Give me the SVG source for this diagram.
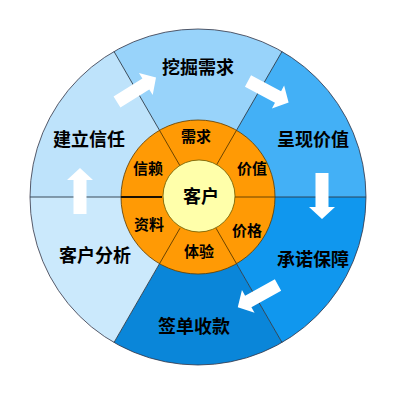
<svg xmlns="http://www.w3.org/2000/svg" width="400" height="400" viewBox="0 0 400 400">
<style>
.t{font-family:"Noto Sans CJK SC","Noto Sans",sans-serif;font-weight:bold;fill:#000;text-anchor:middle;dominant-baseline:central}
.o{font-size:18px}
.i{font-size:15px}
.div{stroke:#2a3a48;stroke-width:0.9;fill:none}
.idiv{stroke:#5a3a00;stroke-width:0.9;fill:none}
.arr{fill:#ffffff}
</style>
<defs>
<path id="ar" d="M0,-6.5 L34,-6.5 L34,-13 L46,0 L34,13 L34,6.5 L0,6.5 Z"/>
</defs>
<rect width="400" height="400" fill="#ffffff"/>
<g id="n-wajue">
<path d="M198,197 L282,51.51 A168,168 0 0 0 114,51.51 Z" fill="#98D3FA"/>
<text class="t o" x="198" y="66">挖掘需求</text>
</g>
<g id="n-chengxian">
<path d="M198,197 L366,197 A168,168 0 0 0 282,51.51 Z" fill="#43B0F6"/>
<text class="t o" x="313" y="138">呈现价值</text>
</g>
<g id="n-chengnuo">
<path d="M198,197 L282,342.49 A168,168 0 0 0 366,197 Z" fill="#1097EE"/>
<text class="t o" x="313" y="258">承诺保障</text>
</g>
<g id="n-qiandan">
<path d="M198,197 L114,342.49 A168,168 0 0 0 282,342.49 Z" fill="#0A86D9"/>
<text class="t o" x="194" y="325">签单收款</text>
</g>
<g id="n-fenxi">
<path d="M198,197 L30,197 A168,168 0 0 0 114,342.49 Z" fill="#CBE9FC"/>
<text class="t o" x="95" y="254">客户分析</text>
</g>
<g id="n-xinren">
<path d="M198,197 L114,51.51 A168,168 0 0 0 30,197 Z" fill="#BEE3FB"/>
<text class="t o" x="89" y="138">建立信任</text>
</g>
<circle cx="198" cy="197" r="168" fill="none" stroke="#334" stroke-width="0.8"/>
<g id="dividers">
<line class="div" x1="275" y1="197" x2="366" y2="197"/>
<line class="div" x1="236.5" y1="130.32" x2="282" y2="51.51"/>
<line class="div" x1="159.5" y1="130.32" x2="114" y2="51.51"/>
<line class="div" x1="121" y1="197" x2="30" y2="197" stroke="#5a7080"/>
<line class="div" x1="159.5" y1="263.68" x2="114" y2="342.49"/>
<line class="div" x1="236.5" y1="263.68" x2="282" y2="342.49"/>
</g>
<g id="n-ring">
<circle cx="198" cy="197" r="77" fill="#FF9A05" stroke="#5a3a00" stroke-width="0.8"/>
<line class="idiv" x1="234" y1="197" x2="275" y2="197"/>
<line class="idiv" x1="216" y1="165.8" x2="236.5" y2="130.32"/>
<line class="idiv" x1="180" y1="165.8" x2="159.5" y2="130.32"/>
<line x1="162" y1="197" x2="121" y2="197" stroke="#1a1000" stroke-width="1.8"/>
<line class="idiv" x1="180" y1="228.2" x2="159.5" y2="263.68"/>
<line class="idiv" x1="216" y1="228.2" x2="236.5" y2="263.68"/>
<text class="t i" x="196" y="135">需求</text>
<text class="t i" x="252" y="167">价值</text>
<text class="t i" x="247" y="229">价格</text>
<text class="t i" x="199" y="250">体验</text>
<text class="t i" x="149" y="223">资料</text>
<text class="t i" x="148" y="167">信赖</text>
</g>
<g id="n-kehu">
<circle cx="199" cy="196" r="36" fill="#FFFFAA" stroke="#6a5a00" stroke-width="0.8"/>
<text class="t" x="201" y="195" font-size="18">客户</text>
</g>
<g id="connectors">
<use href="#ar" class="arr" transform="translate(117,102) rotate(-32)"/>
<use href="#ar" class="arr" transform="translate(248,81) rotate(28)"/>
<use href="#ar" class="arr" transform="translate(322,173) rotate(90)"/>
<use href="#ar" class="arr" transform="translate(278,285) rotate(151)"/>
<use href="#ar" class="arr" transform="translate(80,214) rotate(-90)"/>
</g>
</svg>
